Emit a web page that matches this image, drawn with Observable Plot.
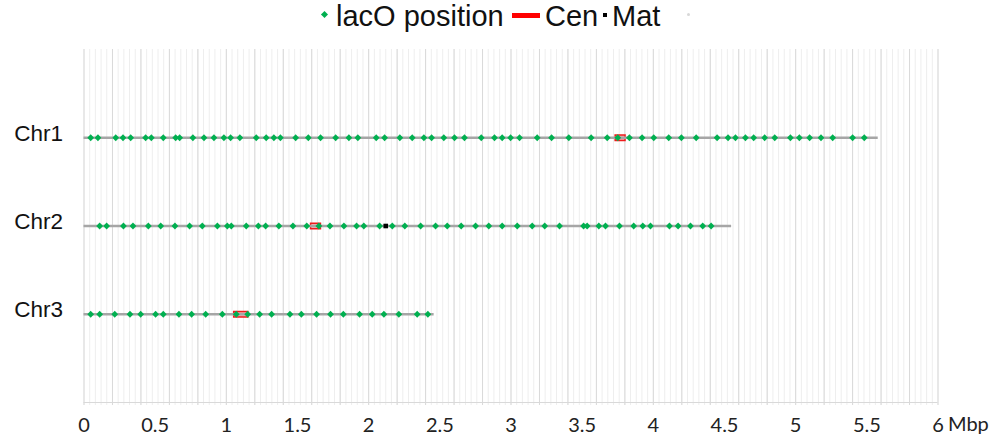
<!DOCTYPE html>
<html>
<head>
<meta charset="utf-8">
<script src="https://cdn.jsdelivr.net/npm/d3@7"></script>
<script src="https://cdn.jsdelivr.net/npm/@observablehq/plot@0.6"></script>
<style>
  html, body { margin: 0; padding: 0; background: #fff; }
  #legend { position: relative; width: 998px; height: 30px; font-family: "Liberation Sans", Arial, sans-serif; font-size: 29px; color: #111; }
  #legend span { position: absolute; white-space: nowrap; }
  #legend .lab { top: 16px; transform: translateY(-50%); line-height: 1; }
  svg { display: block; }
</style>
</head>
<body>
<div id="legend"></div>
<div id="chart"></div>
<script>
// ---- data ----
const chromosomes = ["Chr1", "Chr2", "Chr3"];
const chromRows = [3, 2, 1];
const chromLengths = [5.58, 4.55, 2.46];
const cenStart = [3.73, 1.59, 1.05];
const cenEnd = [3.81, 1.67, 1.16];
const matChrom = ["Chr2"];
const matPos = [2.12];
const lacOChr1 = [0.047, 0.098, 0.223, 0.274, 0.328, 0.433, 0.473, 0.557, 0.644, 0.672, 0.765, 0.843, 0.913, 0.983, 1.03, 1.095, 1.21, 1.28, 1.334, 1.38, 1.487, 1.576, 1.662, 1.768, 1.861, 1.924, 2.053, 2.112, 2.219, 2.306, 2.388, 2.442, 2.528, 2.603, 2.673, 2.791, 2.884, 2.938, 2.997, 3.06, 3.184, 3.285, 3.406, 3.563, 3.676, 3.75, 3.832, 3.921, 4.003, 4.108, 4.197, 4.301, 4.448, 4.525, 4.577, 4.647, 4.705, 4.782, 4.853, 4.963, 5.026, 5.098, 5.178, 5.26, 5.4, 5.482];
const lacOChr2 = [0.110, 0.159, 0.277, 0.344, 0.452, 0.539, 0.639, 0.742, 0.831, 0.937, 1.007, 1.035, 1.14, 1.225, 1.276, 1.369, 1.468, 1.565, 1.65, 1.728, 1.826, 1.915, 1.966, 2.077, 2.166, 2.254, 2.365, 2.470, 2.552, 2.650, 2.751, 2.844, 2.938, 3.044, 3.149, 3.237, 3.341, 3.51, 3.535, 3.617, 3.664, 3.762, 3.862, 3.926, 3.98, 4.113, 4.174, 4.261, 4.347, 4.406];
const lacOChr3 = [0.047, 0.11, 0.216, 0.323, 0.398, 0.503, 0.557, 0.667, 0.756, 0.855, 0.972, 1.07, 1.15, 1.234, 1.318, 1.447, 1.527, 1.634, 1.732, 1.822, 1.936, 2.025, 2.107, 2.212, 2.341, 2.416];
const xTickLabels = ["0", "0.5", "1", "1.5", "2", "2.5", "3", "3.5", "4", "4.5", "5", "5.5", "6"];
const xTicks = xTickLabels.map(Number);
const xUnit = "Mbp";
const legendLabels = ["lacO position", "Cen", "Mat"];

// ---- derived tables ----
const rowOf = new Map(chromosomes.map((c, i) => [c, chromRows[i]]));
const chromTable = chromosomes.map((c, i) => ({chr: c, row: chromRows[i], len: chromLengths[i], cs: cenStart[i], ce: cenEnd[i]}));
const lacO = [
  ...lacOChr1.map(p => ({row: rowOf.get("Chr1"), pos: p})),
  ...lacOChr2.map(p => ({row: rowOf.get("Chr2"), pos: p})),
  ...lacOChr3.map(p => ({row: rowOf.get("Chr3"), pos: p}))
];
const mat = matPos.map((p, i) => ({row: rowOf.get(matChrom[i]), pos: p}));
const xMax = xTicks[xTicks.length - 1];
const minorGrid = d3.range(0, Math.round(xMax / 0.04) + 1).map(i => +(i * 0.04).toFixed(2));
const majorGrid = d3.range(0, Math.round(xMax / 0.2) + 1).map(i => +(i * 0.2).toFixed(1));
const rowName = new Map(chromRows.map((r, i) => [r, chromosomes[i]]));

const GREEN = "#00b050";
const TICKFONT = "Lato, Open Sans, sans-serif";

const chart = Plot.plot({
  width: 998,
  height: 406,
  marginLeft: 83.5,
  marginRight: 60.5,
  marginTop: 19,
  marginBottom: 34,
  style: {fontFamily: "Liberation Sans, Arial, sans-serif", background: "#fff"},
  x: {domain: [0, xMax]},
  y: {domain: [0, 4]},
  marks: [
    Plot.ruleX(minorGrid, {stroke: "#eeeeee", strokeWidth: 1, insetBottom: -3}),
    Plot.ruleX(majorGrid, {stroke: "#d9d9d9", strokeWidth: 1, insetBottom: -3}),
    Plot.ruleY([0], {stroke: "#d9d9d9", strokeWidth: 1}),
    // centromere boxes
    Plot.ruleY(chromTable, {y: "row", x1: "cs", x2: "ce", stroke: "#ee1c1c", strokeWidth: 7}),
    Plot.ruleY(chromTable, {y: "row", x1: "cs", x2: "ce", stroke: "#f3b2b2", strokeWidth: 4, insetLeft: 1.5, insetRight: 1.5}),
    // chromosome lines
    Plot.ruleY(chromTable, {y: "row", x1: 0, x2: "len", stroke: "#a6a6a6", strokeWidth: 2.5}),
    // lacO positions
    Plot.dot(lacO, {x: "pos", y: "row", symbol: "square", r: 2.7, rotate: 45, fill: GREEN, stroke: "none"}),
    // mating-type locus
    Plot.dot(mat, {x: "pos", y: "row", symbol: "square", r: 2.6, fill: "#000", stroke: "none"}),
    // axes
    Plot.axisY(chromRows, {tickSize: 0, tickPadding: 21, label: null, tickFormat: d => rowName.get(d), fontSize: 22.5, dy: -4, fill: "#111", fontFamily: "Liberation Sans, Arial, sans-serif"}),
    Plot.axisX(xTicks, {tickSize: 0, tickPadding: 15, label: null, tickFormat: (d) => xTickLabels[xTicks.indexOf(d)], fontSize: 20, fill: "#222", fontFamily: TICKFONT}),
    Plot.text([xMax], {x: d => d, y: 0, dy: 22, dx: 10, text: () => xUnit, textAnchor: "start", lineAnchor: "middle", fontSize: 20, fill: "#222", fontFamily: TICKFONT})
  ]
});
document.getElementById("chart").append(chart);

// legend
const legend = document.getElementById("legend");
function add(html, left, cls, style) {
  const s = document.createElement("span");
  s.textContent = html; s.className = cls || ""; s.style.left = left + "px";
  Object.assign(s.style, style || {});
  legend.append(s);
  return s;
}
add("", 322, "", {top: "12px", width: "5px", height: "5px", background: GREEN, transform: "rotate(45deg)"});
add(legendLabels[0], 336, "lab");
add("", 512, "", {top: "13px", width: "28px", height: "5px", background: "#ff0000"});
add(legendLabels[1], 545, "lab");
add("", 603, "", {top: "13px", width: "4px", height: "4px", background: "#000"});
add(legendLabels[2], 612, "lab");
add("", 687, "", {top: "13px", width: "3px", height: "3px", background: "#d8d8d8", borderRadius: "50%"});
</script>
</body>
</html>
